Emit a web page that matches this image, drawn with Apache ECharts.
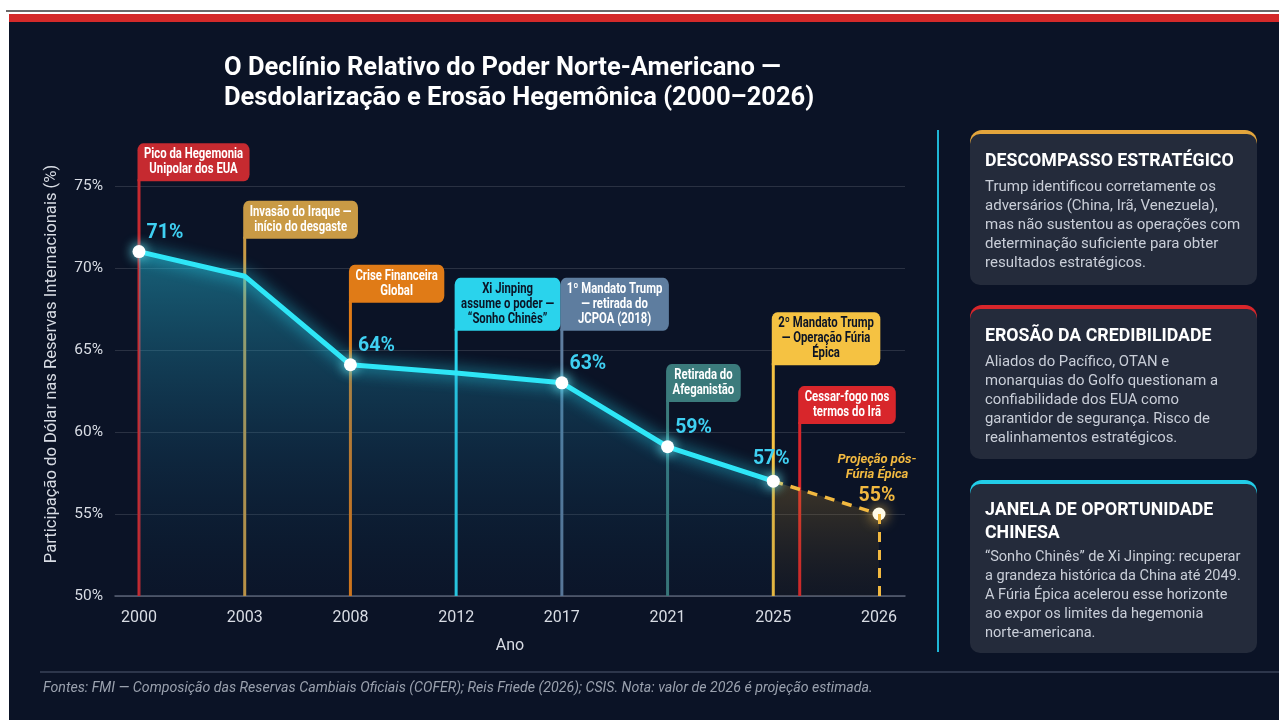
<!DOCTYPE html>
<html>
<head>
<meta charset="utf-8">
<script src="https://cdn.jsdelivr.net/npm/echarts@6/dist/echarts.min.js"></script>
<style>
  html, body { margin: 0; padding: 0; background: #fff; }
  #chart { width: 1279px; height: 720px; }
</style>
</head>
<body>
<div id="chart"></div>
<script>
// ---- data ----
const years = ['2000', '2003', '2008', '2012', '2017', '2021', '2025', '2026'];
const dollarShare = [71.0, 69.5, 64.1, 63.6, 63.0, 59.1, 57.0];   // 2000..2025
const projection = [57.0, 55.0];                                   // 2025 -> 2026 (estimada)
const labelledYears = ['2000', '2008', '2017', '2021', '2025'];
const yTicks = [50, 55, 60, 65, 70, 75];

// eventos (posição no eixo de anos)
const eventX = [0, 1, 2, 3, 4, 5, 6, 6.25];
const eventLabels = [
  'Pico da Hegemonia\nUnipolar dos EUA',
  'Invasão do Iraque —\ninício do desgaste',
  'Crise Financeira\nGlobal',
  'Xi Jinping\nassume o poder —\n“Sonho Chinês”',
  '1º Mandato Trump\n— retirada do\nJCPOA (2018)',
  'Retirada do\nAfeganistão',
  '2º Mandato Trump\n— Operação Fúria\nÉpica',
  'Cessar-fogo nos\ntermos do Irã'
];

// ---- estilos / layout ----
const eventColors = ['#c62a30', '#c99a45', '#e07b17', '#2ad3ec', '#5e7d9f', '#3b7b7c', '#f5c242', '#d8262b'];
const eventTextColors = ['#fff', '#fff', '#fff', '#0b1426', '#fff', '#fff', '#0b1426', '#fff'];
const calloutTop = [77.6, 74.1, 70.2, 69.4, 69.4, 64.15, 67.3, 62.8];

const cards = [
  { title: 'DESCOMPASSO ESTRATÉGICO',
    body: 'Trump identificou corretamente os\nadversários (China, Irã, Venezuela),\nmas não sustentou as operações com\ndeterminação suficiente para obter\nresultados estratégicos.',
    accent: '#e3a53c', y: 130, h: 155, bodyScale: 0.97 },
  { title: 'EROSÃO DA CREDIBILIDADE',
    body: 'Aliados do Pacífico, OTAN e\nmonarquias do Golfo questionam a\nconfiabilidade dos EUA como\ngarantidor de segurança. Risco de\nrealinhamentos estratégicos.',
    accent: '#d8262b', y: 305, h: 154, bodyScale: 0.96 },
  { title: 'JANELA DE OPORTUNIDADE\nCHINESA',
    body: '“Sonho Chinês” de Xi Jinping: recuperar\na grandeza histórica da China até 2049.\nA Fúria Épica acelerou esse horizonte\nao expor os limites da hegemonia\nnorte-americana.',
    accent: '#22cde8', y: 480, h: 173, bodyScale: 0.94 }
];

const FONT = 'Roboto, "Noto Sans", sans-serif';
const CALLOUT_FONT = 'bold 14px Roboto, sans-serif';
const CALLOUT_SCALE = 0.81;

const measure = document.createElement('canvas').getContext('2d');
function textWidth(s, font) {
  measure.font = font;
  return Math.max(...s.split('\n').map(l => measure.measureText(l).width));
}

const chart = echarts.init(document.getElementById('chart'));

const mainData = dollarShare.map((v, i) => {
  const shown = labelledYears.includes(years[i]);
  return {
    value: [i, v],
    symbolSize: shown ? 13 : 0,
    label: { show: shown, offset: years[i] === '2025' ? [-2, -1] : [26, 3] }
  };
});

const projData = [
  { value: [6, projection[0]], symbolSize: 0, label: { show: false } },
  { value: [7, projection[1]], symbolSize: 13 }
];

const graphics = [
  // moldura
  { type: 'rect', z: -10, shape: { x: 6, y: 10, width: 1273, height: 2 }, style: { fill: '#6a6a6a' } },
  { type: 'rect', z: -10, shape: { x: 9, y: 14, width: 1270, height: 8 }, style: { fill: '#d42a2a' } },
  { type: 'rect', z: -10, shape: { x: 9, y: 22, width: 1270, height: 698 }, style: { fill: '#0b1326' } },
  // título
  { type: 'text', x: 224, y: 54,
    style: { text: 'O Declínio Relativo do Poder Norte-Americano —\nDesdolarização e Erosão Hegemônica (2000–2026)',
      fill: '#fff', font: 'bold 25.5px ' + FONT, lineHeight: 30 } },
  // divisor
  { type: 'line', shape: { x1: 938, y1: 130, x2: 938, y2: 652 }, style: { stroke: '#1fb6d6', lineWidth: 2 } },
  // rodapé
  { type: 'line', shape: { x1: 40, y1: 672, x2: 1279, y2: 672 }, style: { stroke: '#3a4358', lineWidth: 1.5 } },
  { type: 'text', x: 43, y: 681,
    style: { text: 'Fontes: FMI — Composição das Reservas Cambiais Oficiais (COFER); Reis Friede (2026); CSIS. Nota: valor de 2026 é projeção estimada.',
      fill: '#9aa1ae', font: 'italic 14.2px ' + FONT } }
];

cards.forEach(c => {
  const titleLines = c.title.split('\n').length;
  graphics.push({
    type: 'group', x: 970, y: c.y,
    children: [
      { type: 'rect', shape: { x: 0, y: 0, width: 287, height: 24, r: 12 }, style: { fill: c.accent } },
      { type: 'rect', shape: { x: 0, y: 4, width: 287, height: c.h - 4, r: 10 }, style: { fill: '#242b3b' } },
      { type: 'text', x: 15, y: titleLines > 1 ? 19 : 20, scaleX: 0.96,
        style: { text: c.title, fill: '#fff', font: 'bold 18.5px ' + FONT, lineHeight: 23 } },
      { type: 'text', x: 15, y: titleLines > 1 ? 67.5 : 47.5, scaleX: c.bodyScale,
        style: { text: c.body, fill: '#c9ced8', font: '15.5px ' + FONT, lineHeight: 19 } }
    ]
  });
});

const option = {
  backgroundColor: 'transparent',
  animation: false,
  graphic: graphics,
  grid: { left: 115, right: 374, top: 186, bottom: 124 },
  xAxis: {
    type: 'value',
    min: -0.227,
    max: 7.246,
    name: 'Ano',
    nameLocation: 'middle',
    nameGap: 42,
    nameTextStyle: { color: '#d8dce4', fontSize: 16, fontFamily: FONT },
    splitLine: { show: false },
    axisTick: { show: false },
    axisLine: { show: true, lineStyle: { color: '#5a6275', width: 1.5 } },
    axisLabel: {
      customValues: years.map((_, i) => i),
      formatter: v => years[v] || '',
      color: '#d8dce4', fontSize: 16, fontFamily: FONT, margin: 14
    }
  },
  yAxis: {
    type: 'value',
    min: yTicks[0],
    max: yTicks[yTicks.length - 1],
    interval: 5,
    name: 'Participação do Dólar nas Reservas Internacionais (%)',
    nameLocation: 'middle',
    nameGap: 55,
    nameTextStyle: { color: '#d8dce4', fontSize: 16.6, fontFamily: FONT, padding: [0, 0, 0, 54] },
    axisLine: { show: false },
    axisTick: { show: false },
    axisLabel: { formatter: '{value}%', color: '#d8dce4', fontSize: 15.5, fontFamily: FONT, margin: 12 },
    splitLine: { lineStyle: { color: 'rgba(255,255,255,0.13)', width: 1 } }
  },
  series: [
    {
      type: 'custom',
      z: 1,
      clip: false,
      data: eventX.map((x, i) => [x, calloutTop[i]]),
      renderItem: (params, api) => {
        const i = params.dataIndex;
        const base = api.coord([api.value(0), yTicks[0]]);
        const top = api.coord([api.value(0), api.value(1)]);
        const text = eventLabels[i];
        const lines = text.split('\n').length;
        const w = (textWidth(text, CALLOUT_FONT) + 16) * CALLOUT_SCALE;
        const h = lines * 15 + 8;
        return {
          type: 'group',
          children: [
            { type: 'line', shape: { x1: top[0], y1: base[1], x2: top[0], y2: top[1] + h - 2 },
              style: { stroke: eventColors[i], lineWidth: 3 } },
            { type: 'text', x: top[0] - 1.5 + w / 2, y: top[1], scaleX: CALLOUT_SCALE,
              style: {
                text: text, fill: eventTextColors[i], font: CALLOUT_FONT,
                align: 'center', verticalAlign: 'top', lineHeight: 15,
                backgroundColor: eventColors[i], padding: [4, 8, 4, 8],
                borderRadius: [7, 7, 7, 0]
              } }
          ]
        };
      }
    },
    {
      type: 'line',
      z: 4,
      data: mainData,
      symbol: 'circle',
      itemStyle: { color: '#ffffff', shadowColor: 'rgba(120,245,255,1)', shadowBlur: 12 },
      lineStyle: { color: '#2ee6f7', width: 5, shadowColor: 'rgba(40,230,255,0.9)', shadowBlur: 16 },
      areaStyle: {
        color: new echarts.graphic.LinearGradient(0, 0, 0, 1, [
          { offset: 0, color: 'rgba(40,200,230,0.62)' },
          { offset: 0.6, color: 'rgba(25,110,150,0.3)' },
          { offset: 1, color: 'rgba(15,50,80,0.12)' }
        ])
      },
      label: {
        position: 'top',
        color: '#3fd0f2',
        fontSize: 19.5,
        fontWeight: 'bold',
        fontFamily: FONT,
        formatter: p => Math.round(p.value[1]) + '%'
      }
    },
    {
      type: 'line',
      z: 3,
      data: projData,
      symbol: 'circle',
      itemStyle: { color: '#fffbe8', shadowColor: 'rgba(255,200,80,1)', shadowBlur: 14 },
      lineStyle: { color: '#f2b940', width: 3.5, type: [10, 8] },
      areaStyle: {
        color: new echarts.graphic.LinearGradient(0, 0, 0, 1, [
          { offset: 0, color: 'rgba(200,150,50,0.38)' },
          { offset: 1, color: 'rgba(90,70,30,0.12)' }
        ])
      },
      label: {
        show: true,
        position: 'top',
        offset: [-2, 8],
        formatter: p => '{a|Projeção pós-}\n{a|Fúria Épica}\n{b|' + p.value[1] + '%}',
        rich: {
          a: { color: '#f2b940', fontSize: 13, fontStyle: 'italic', fontWeight: 'bold', fontFamily: FONT, lineHeight: 15, align: 'center' },
          b: { color: '#f2b940', fontSize: 19.5, fontWeight: 'bold', fontFamily: FONT, lineHeight: 28, align: 'center' }
        }
      },
      markLine: {
        silent: true,
        symbol: 'none',
        label: { show: false },
        lineStyle: { color: '#f2b940', width: 3, type: [10, 8] },
        data: [[{ coord: [7, projection[1]] }, { coord: [7, yTicks[0]] }]]
      }
    }
  ]
};

chart.setOption(option);
window.addEventListener('resize', () => chart.resize());
</script>
</body>
</html>
